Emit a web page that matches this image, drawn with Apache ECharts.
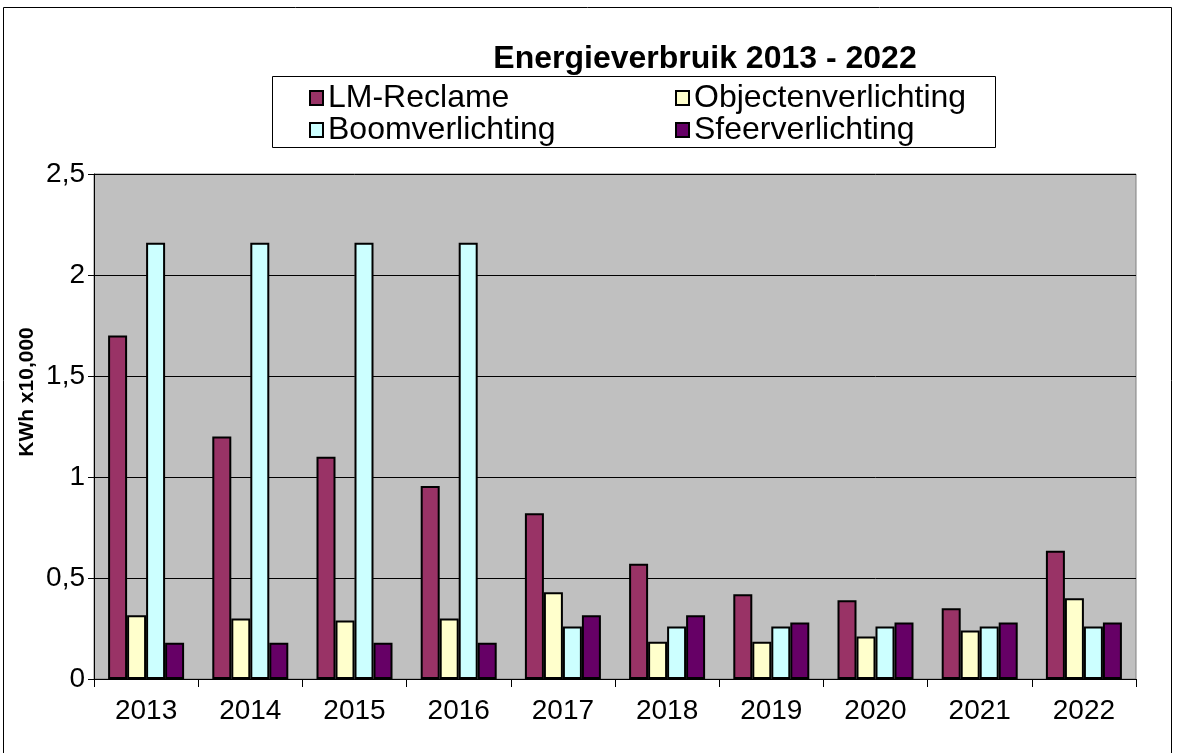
<!DOCTYPE html>
<html>
<head>
<meta charset="utf-8">
<script src="https://cdn.jsdelivr.net/npm/echarts@6/dist/echarts.min.js"></script>
<style>
  html, body { margin: 0; padding: 0; background: #fff; }
  #chart { width: 1182px; height: 753px; }
</style>
</head>
<body>
<div id="chart"></div>
<script>
// data (KWh x10,000)
var years = ['2013', '2014', '2015', '2016', '2017', '2018', '2019', '2020', '2021', '2022'];
var lmReclame = [1.70, 1.20, 1.10, 0.955, 0.82, 0.57, 0.42, 0.39, 0.35, 0.635];
var objectVerl = [0.315, 0.30, 0.29, 0.30, 0.43, 0.185, 0.185, 0.21, 0.24, 0.40];
var boomVerl = [2.16, 2.16, 2.16, 2.16, 0.26, 0.26, 0.26, 0.26, 0.26, 0.26];
var sfeerVerl = [0.18, 0.18, 0.18, 0.18, 0.315, 0.315, 0.28, 0.28, 0.28, 0.28];
var yTicks = [0, 0.5, 1, 1.5, 2, 2.5];

var font = 'Liberation Sans, Arial, sans-serif';

function bar (name, data, color) {
  return {
    name: name,
    type: 'bar',
    data: data,
    barWidth: 19,
    barGap: '0%',
    itemStyle: { color: color, borderColor: '#000', borderWidth: 2 }
  };
}

var legendText = { fontFamily: font, fontSize: 32, color: '#000', lineHeight: 30 };

var chart = echarts.init(document.getElementById('chart'));
chart.setOption({
  animation: false,
  backgroundColor: '#fff',
  title: {
    text: 'Energieverbruik 2013 - 2022',
    left: 700,
    textAlign: 'center',
    top: 38,
    textStyle: { fontFamily: font, fontSize: 32, fontWeight: 'bold', color: '#000' }
  },
  // frame, legend box, y axis title
  graphic: [
    {
      type: 'rect', z: -1,
      shape: { x: 3.5, y: 7.5, width: 1168, height: 800 },
      style: { fill: 'none', stroke: '#000', lineWidth: 1 }
    },
    {
      type: 'rect', z: 0,
      shape: { x: 272.5, y: 76.5, width: 723, height: 71 },
      style: { fill: '#fff', stroke: '#000', lineWidth: 1 }
    },
    {
      type: 'text', z: 5,
      x: 27, y: 392, rotation: Math.PI / 2,
      style: {
        text: 'KWh x10,000',
        fill: '#000',
        font: 'bold 21px Liberation Sans, Arial, sans-serif',
        textAlign: 'center',
        textVerticalAlign: 'middle'
      }
    }
  ],
  legend: [
    {
      data: ['LM-Reclame', 'Boomverlichting'],
      orient: 'vertical',
      left: 304, top: 77,
      itemWidth: 13, itemHeight: 14, itemGap: 0,
      icon: 'rect',
      itemStyle: { borderColor: '#000', borderWidth: 2 },
      textStyle: legendText,
      z: 5
    },
    {
      data: ['Objectenverlichting', 'Sfeerverlichting'],
      orient: 'vertical',
      left: 670, top: 77,
      itemWidth: 13, itemHeight: 14, itemGap: 0,
      icon: 'rect',
      itemStyle: { borderColor: '#000', borderWidth: 2 },
      textStyle: legendText,
      z: 5
    }
  ],
  grid: {
    left: 94, right: 46, top: 174, bottom: 74,
    show: true,
    backgroundColor: '#c0c0c0',
    borderColor: '#808080',
    borderWidth: 1
  },
  xAxis: {
    type: 'category',
    data: years,
    axisLine: { lineStyle: { color: '#000', width: 1 } },
    axisTick: { show: true, length: 8, lineStyle: { color: '#000' } },
    axisLabel: { fontFamily: font, fontSize: 28, color: '#000', margin: 18 }
  },
  yAxis: {
    type: 'value',
    min: yTicks[0],
    max: yTicks[yTicks.length - 1],
    interval: 0.5,
    axisLine: { show: true, lineStyle: { color: '#000', width: 1 } },
    axisTick: { show: true, length: 6, lineStyle: { color: '#000' } },
    splitLine: { show: true, lineStyle: { color: '#000', width: 1 } },
    axisLabel: {
      fontFamily: font, fontSize: 28, color: '#000', margin: 9,
      formatter: function (v) { return String(v).replace('.', ','); }
    }
  },
  series: [
    bar('LM-Reclame', lmReclame, '#993366'),
    bar('Objectenverlichting', objectVerl, '#ffffcc'),
    bar('Boomverlichting', boomVerl, '#ccffff'),
    bar('Sfeerverlichting', sfeerVerl, '#660066')
  ]
});
</script>
</body>
</html>
